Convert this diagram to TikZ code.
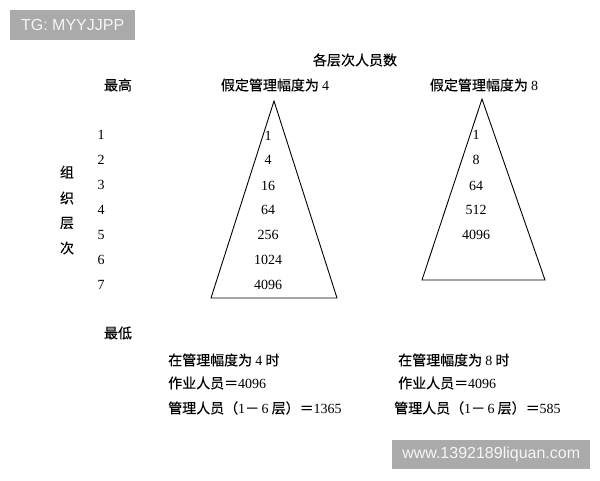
\documentclass[tikz,border=0pt]{standalone}
\usepackage{fontspec}
\setmainfont{Liberation Serif}
\newfontfamily\cjk[FakeBold=0.25]{Noto Sans CJK SC}
\newfontfamily\wmfont{Liberation Sans}
\definecolor{wmgray}{RGB}{170,170,170}
\definecolor{wmtext}{RGB}{245,245,245}
\begin{document}
\begin{tikzpicture}[x=1pt,y=-1pt,
  txt/.style={inner sep=0pt, font=\fontsize{14}{16}\selectfont\cjk},
  lt/.style={txt, anchor=west},
  num/.style={inner sep=0pt, font=\fontsize{14}{16}\selectfont},
  wmbox/.style={fill=wmgray, text=wmtext, inner sep=0pt, font=\fontsize{16}{18}\selectfont\wmfont},
  tri/.style={draw=black, line width=0.9pt, line join=miter}]
\useasboundingbox (0,0) rectangle (600,480);
\fill[white] (0,0) rectangle (600,480);
% watermarks
\node[wmbox, minimum width=125pt, minimum height=30pt, anchor=north west] (tg) at (10,10) {TG: MYYJJPP};
\node[wmbox, minimum width=198pt, minimum height=29pt, anchor=north west] (www) at (392,440) {www.1392189liquan.com};
% headings
\node[txt] (title) at (355,60) {各层次人员数};
\node[txt] (top) at (118,85) {最高};
\node[txt] (bottom) at (118,333) {最低};
\node[txt] (h4) at (275,85) {假定管理幅度为 {\rmfamily 4}};
\node[txt] (h8) at (484,85) {假定管理幅度为 {\rmfamily 8}};
% vertical label
\node[txt] (v1) at (67,172) {组};
\node[txt] (v2) at (67,198) {织};
\node[txt] (v3) at (67,223) {层};
\node[txt] (v4) at (67,248) {次};
% level numbers
\foreach \i/\y in {1/135,2/160,3/185,4/210,5/235,6/260,7/285}
  \node[num] (lv\i) at (101,\y) {\i};
% triangle 1
\coordinate (a1) at (274,101);
\coordinate (b1) at (211,298);
\coordinate (c1) at (337,298);
\draw[tri] (a1) -- (b1) -- (c1) -- cycle;
\foreach \v/\y [count=\k] in {1/136,4/160,16/186,64/210,256/235,1024/260,4096/285}
  \node[num] (p\k) at (268,\y) {\v};
% triangle 2
\coordinate (a2) at (482,99);
\coordinate (b2) at (422,280);
\coordinate (c2) at (545,280);
\draw[tri] (a2) -- (b2) -- (c2) -- cycle;
\foreach \v/\y [count=\k] in {1/135,8/160,64/186,512/210,4096/235}
  \node[num] (q\k) at (476,\y) {\v};
% bottom texts
\node[lt] (l1) at (168,360) {在管理幅度为 {\rmfamily 4} 时};
\node[lt] (l2) at (168,383) {作业人员＝{\rmfamily 4096}};
\node[lt] (l3) at (168,408) {管理人员（{\rmfamily 1}－\,{\rmfamily 6} 层）＝{\rmfamily 1365}};
\node[lt] (r1) at (398,360) {在管理幅度为 {\rmfamily 8} 时};
\node[lt] (r2) at (398,383) {作业人员＝{\rmfamily 4096}};
\node[lt] (r3) at (394,408) {管理人员（{\rmfamily 1}－\,{\rmfamily 6} 层）＝{\rmfamily 585}};
\end{tikzpicture}
\end{document}
